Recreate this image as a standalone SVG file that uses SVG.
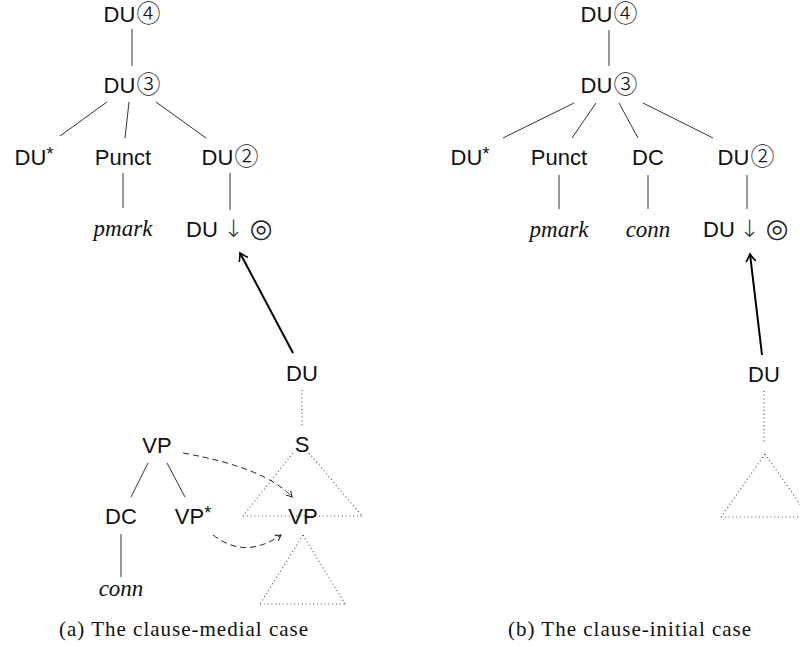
<svg xmlns="http://www.w3.org/2000/svg" width="800" height="647" viewBox="0 0 800 647">
<style>
.n{font-family:"Liberation Sans","DejaVu Sans",sans-serif;font-size:22px;fill:#111;text-anchor:middle}
.c{font-family:"Noto Sans CJK JP","DejaVu Sans",sans-serif;font-weight:300;font-size:24px}
.o{font-family:"DejaVu Sans",sans-serif;font-size:26px;fill:#222}
.ar{font-family:"DejaVu Sans",sans-serif;font-size:24px;font-weight:300;fill:#333}
.t{font-family:"Liberation Serif","DejaVu Serif",serif;font-style:italic;font-size:23px;fill:#111;text-anchor:middle}
.cap{font-family:"Liberation Serif","DejaVu Serif",serif;font-size:21px;letter-spacing:1px;fill:#111}
.sup{font-size:18px}
.e{stroke:#333;stroke-width:1;fill:none}
.dot{stroke:#555;stroke-width:1.2;stroke-dasharray:1 2.8;fill:none}
.dash{stroke:#222;stroke-width:1;stroke-dasharray:6 4;fill:none}
.arr{stroke:#000;stroke-width:2;fill:none}
</style>
<defs>
<marker id="big" markerWidth="12" markerHeight="12" refX="10" refY="6" orient="auto" markerUnits="userSpaceOnUse"><path d="M3,1.5 Q7,4.5 10,6 Q7,7.5 3,10.5" fill="none" stroke="#000" stroke-width="1.6" stroke-linecap="round"/></marker>
<marker id="sm" markerWidth="10" markerHeight="10" refX="8" refY="5" orient="auto" markerUnits="userSpaceOnUse"><path d="M3,2 Q6,4 8,5 Q6,6 3,8" fill="none" stroke="#222" stroke-width="1.1" stroke-linecap="round"/></marker>
</defs>

<g id="connectors">
<!-- left tree (a) -->
<line class="e" x1="132" y1="29" x2="132" y2="66"/>
<line class="e" x1="107" y1="102" x2="60" y2="136"/>
<line class="e" x1="129" y1="102" x2="125" y2="138"/>
<line class="e" x1="156" y1="102" x2="206" y2="138"/>
<line class="e" x1="123" y1="173" x2="123" y2="208"/>
<line class="e" x1="230" y1="173" x2="230" y2="210"/>
<line class="arr" x1="293" y1="353" x2="240" y2="253" marker-end="url(#big)"/>
<line class="dot" x1="302" y1="390" x2="302" y2="428"/>
<line class="dot" x1="293" y1="453" x2="243" y2="516"/>
<line class="dot" x1="309" y1="453" x2="362" y2="516"/>
<line class="dot" x1="243" y1="516" x2="362" y2="516"/>
<line class="dot" x1="303" y1="535" x2="260" y2="604"/>
<line class="dot" x1="303" y1="535" x2="345" y2="604"/>
<line class="dot" x1="260" y1="604" x2="345" y2="604"/>
<line class="e" x1="148" y1="463" x2="131" y2="497"/>
<line class="e" x1="167" y1="463" x2="185" y2="497"/>
<line class="e" x1="121" y1="534" x2="121" y2="577"/>
<path class="dash" d="M183,453 Q266,468 292,497" marker-end="url(#sm)"/>
<path class="dash" d="M213,535 Q245,560 281,535" marker-end="url(#sm)"/>
<!-- right tree (b) -->
<line class="e" x1="609" y1="30" x2="609" y2="66"/>
<line class="e" x1="574" y1="103" x2="503" y2="138"/>
<line class="e" x1="596" y1="103" x2="572" y2="138"/>
<line class="e" x1="619" y1="103" x2="638" y2="138"/>
<line class="e" x1="643" y1="103" x2="713" y2="138"/>
<line class="e" x1="559" y1="175" x2="559" y2="209"/>
<line class="e" x1="648" y1="175" x2="648" y2="209"/>
<line class="e" x1="747" y1="175" x2="747" y2="209"/>
<line class="arr" x1="762" y1="355" x2="750" y2="254" marker-end="url(#big)"/>
<line class="dot" x1="764" y1="391" x2="764" y2="443"/>
<line class="dot" x1="765" y1="454" x2="721" y2="517"/>
<line class="dot" x1="765" y1="454" x2="809" y2="517"/>
<line class="dot" x1="721" y1="517" x2="809" y2="517"/>
</g>

<g id="a-du4"><text class="n" x="132" y="22">DU<tspan class="c" dx="1">④</tspan></text></g>
<g id="a-du3"><text class="n" x="132" y="93">DU<tspan class="c" dx="1">③</tspan></text></g>
<g id="a-dustar"><text class="n" x="34" y="165">DU<tspan class="sup" dy="-5">*</tspan></text></g>
<g id="a-punct"><text class="n" x="123" y="165">Punct</text></g>
<g id="a-du2"><text class="n" x="230" y="165">DU<tspan class="c" dx="1">②</tspan></text></g>
<g id="a-pmark"><text class="t" x="123" y="236">pmark</text></g>
<g id="a-dusub"><text class="n" y="237"><tspan x="205">DU </tspan><tspan class="ar" x="237">↓ </tspan><tspan class="o" x="261">◎</tspan></text></g>
<g id="a-du"><text class="n" x="302" y="381">DU</text></g>
<g id="a-s"><text class="n" x="302" y="452">S</text></g>
<g id="a-vp-target"><text class="n" x="303" y="524">VP</text></g>
<g id="a-vp"><text class="n" x="157" y="453">VP</text></g>
<g id="a-dc"><text class="n" x="121" y="524">DC</text></g>
<g id="a-vpstar"><text class="n" x="193" y="524">VP<tspan class="sup" dy="-5">*</tspan></text></g>
<g id="a-conn"><text class="t" x="121" y="596">conn</text></g>

<g id="b-du4"><text class="n" x="609" y="22">DU<tspan class="c" dx="1">④</tspan></text></g>
<g id="b-du3"><text class="n" x="609" y="93">DU<tspan class="c" dx="1">③</tspan></text></g>
<g id="b-dustar"><text class="n" x="470" y="165">DU<tspan class="sup" dy="-5">*</tspan></text></g>
<g id="b-punct"><text class="n" x="559" y="165">Punct</text></g>
<g id="b-dc"><text class="n" x="648" y="165">DC</text></g>
<g id="b-du2"><text class="n" x="746" y="165">DU<tspan class="c" dx="1">②</tspan></text></g>
<g id="b-pmark"><text class="t" x="559" y="237">pmark</text></g>
<g id="b-conn"><text class="t" x="648" y="237">conn</text></g>
<g id="b-dusub"><text class="n" y="237"><tspan x="722">DU </tspan><tspan class="ar" x="753">↓ </tspan><tspan class="o" x="777">◎</tspan></text></g>
<g id="b-du"><text class="n" x="764" y="382">DU</text></g>

<g id="captions">
<text class="cap" x="59" y="636">(a) The clause-medial case</text>
<text class="cap" x="508" y="636">(b) The clause-initial case</text>
</g>
</svg>
